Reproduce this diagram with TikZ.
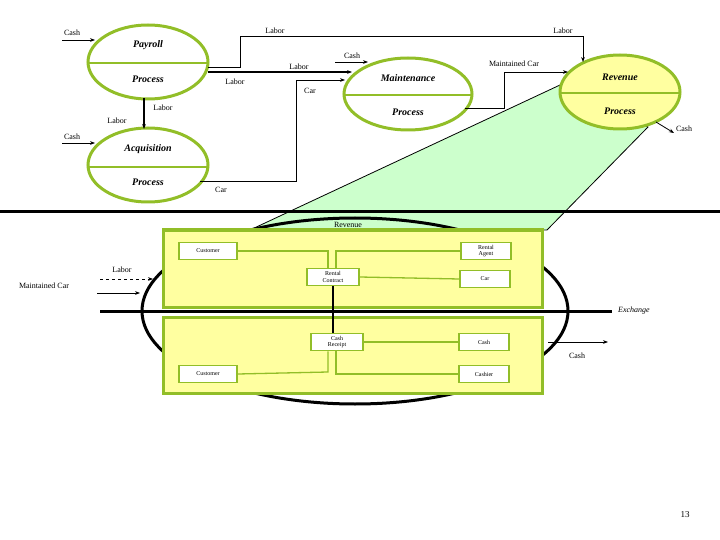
\documentclass[tikz,border=0pt]{standalone}
\usepackage{fontspec}
\setmainfont{Liberation Serif}
\usetikzlibrary{arrows.meta}
\definecolor{gr}{RGB}{146,190,40}
\definecolor{lyel}{RGB}{255,255,160}
\definecolor{lgreen}{RGB}{204,255,204}
\begin{document}
\begin{tikzpicture}[x=1pt,y=-1pt,
  lbl/.style={font=\fontsize{8}{9}\selectfont,inner sep=1pt},
  ptxt/.style={font=\fontsize{10}{11}\selectfont\bfseries\itshape,inner sep=1pt},
  proc/.style={draw=gr,line width=3pt},
  box/.style={draw=gr,line width=1.5pt,fill=white,minimum width=52pt,minimum height=17pt,align=center,font=\fontsize{6}{6.5}\selectfont,inner sep=1pt},
  gl/.style={draw=gr,line width=1.3pt},
  arr/.style={-{Stealth[length=5pt]},line width=0.8pt}]
\useasboundingbox (0,0) rectangle (720,540);
% green shape
\fill[lgreen,draw=black,line width=0.8pt] (250,230) -- (560,85) -- (648,127) -- (547,230) -- cycle;
% lines
\draw[line width=3pt] (0,212) -- (720,212);
% processes
\draw[proc] (148,62) ellipse (60 and 37); \draw[gr,line width=2pt] (88,63) -- (208,63);
\draw[proc] (148,165) ellipse (60 and 37); \draw[gr,line width=2pt] (88,167) -- (208,167);
\draw[proc,fill=white] (408,94) ellipse (64 and 36); \draw[gr,line width=2pt] (344,95) -- (472,95);
\draw[proc,fill=lyel] (620,92) ellipse (60 and 37); \draw[gr,line width=2pt] (560,93) -- (680,93);
\node[ptxt] (pay) at (148,45) {Payroll};
\node[ptxt] (payp) at (148,79) {Process};
\node[ptxt] (acq) at (148,149) {Acquisition};
\node[ptxt] (acqp) at (148,182) {Process};
\node[ptxt] (mnt) at (408,78) {Maintenance};
\node[ptxt] (mntp) at (408,112) {Process};
\node[ptxt] (rev) at (620,77) {Revenue};
\node[ptxt] (revp) at (620,111) {Process};
% top arrows
\coordinate (c1) at (62,40); \coordinate (p1) at (95,40);
\draw[arr] (c1) -- (p1); \node[lbl] at (72,33) {Cash};
\coordinate (c2) at (62,143); \coordinate (p2) at (95,143);
\draw[arr] (c2) -- (p2); \node[lbl] at (72,137) {Cash};
\coordinate (l1) at (208,67); \coordinate (l2) at (583,62);
\draw[arr] (l1) -- (240,67) -- (240,36) -- (583,36) -- (l2);
\node[lbl] at (275,31) {Labor}; \node[lbl] at (563,31) {Labor};
\coordinate (l3) at (208,72); \coordinate (l4) at (352,72);
\draw[arr,line width=1.5pt] (l3) -- (l4);
\node[lbl] at (299,67) {Labor}; \node[lbl] at (235,82) {Labor};
\coordinate (a1) at (200,181); \coordinate (a2) at (345,80);
\draw[arr] (a1) -- (296,181) -- (296,80) -- (a2);
\node[lbl] at (310,91) {Car}; \node[lbl] at (221,190) {Car};
\coordinate (m1) at (335,62); \coordinate (m2) at (368,62);
\draw[arr] (m1) -- (m2); \node[lbl] at (352,56) {Cash};
\coordinate (m3) at (465,108); \coordinate (m4) at (568,72);
\draw[arr] (m3) -- (504,108) -- (504,72) -- (m4);
\node[lbl] at (514,64) {Maintained Car};
\coordinate (r1) at (656,122); \coordinate (r2) at (674,133);
\draw[arr] (r1) -- (r2); \node[lbl] at (684,129) {Cash};
\coordinate (d1) at (144,98); \coordinate (d2) at (144,129);
\draw[arr,line width=1.2pt] (d1) -- (d2);
\node[lbl] at (163,108) {Labor}; \node[lbl] at (117,121) {Labor};
% big ellipse
\draw[line width=3pt] (355,311) ellipse (213 and 93);
\draw[line width=3pt] (100,311) -- (612,311);
\node[lbl,font=\fontsize{8}{9}\selectfont\itshape] at (634,311) {Exchange};
% rectangles
\draw[draw=gr,line width=3pt,fill=lyel] (163,230) rectangle (542,307);
\draw[draw=gr,line width=3pt,fill=lyel] (163,317) rectangle (542,393);
\node[lbl] at (348,225) {Revenue};
\node[box,minimum width=58pt] (cu1) at (208,251) {Customer};
\node[box,minimum width=50pt] (ra) at (486,251) {Rental\\Agent};
\node[box] (rc) at (333,277) {Rental\\Contract};
\node[box,minimum width=50pt] (car) at (485,279) {Car};
\node[box] (cr) at (337,342) {Cash\\Receipt};
\node[box,minimum width=50pt] (cs) at (484,342) {Cash};
\node[box,minimum width=58pt] (cu2) at (208,374) {Customer};
\node[box,minimum width=50pt] (cb) at (484,374) {Cashier};
\draw[gl] (cu1.east) -- (328,251) -- ([xshift=-5pt]rc.north);
\draw[gl] (ra.west) -- (336,251) -- ([xshift=3pt]rc.north);
\draw[gl] (rc.east) -- (car.west);
\draw[line width=2pt] (rc.south) -- (rc.south |- cr.north);
\draw[gl] (cr.east) -- (cs.west);
\draw[gl] (cu2.east) -- (328,372) -- ([xshift=-9pt]cr.south);
\draw[gl] (cb.west) -- (336,374) -- ([xshift=-1pt]cr.south);
% side arrows
\coordinate (s1) at (100,279); \coordinate (s2) at (153,279);
\draw[arr,dashed] (s1) -- (s2); \node[lbl] at (122,270) {Labor};
\coordinate (s3) at (97,293); \coordinate (s4) at (140,293);
\draw[arr] (s3) -- (s4); \node[lbl] at (44,286) {Maintained Car};
\coordinate (s5) at (548,342); \coordinate (s6) at (608,342);
\draw[arr] (s5) -- (s6); \node[lbl] at (577,356) {Cash};
\node[font=\fontsize{9}{10}\selectfont] (pg) at (685,515) {13};
\end{tikzpicture}
\end{document}
